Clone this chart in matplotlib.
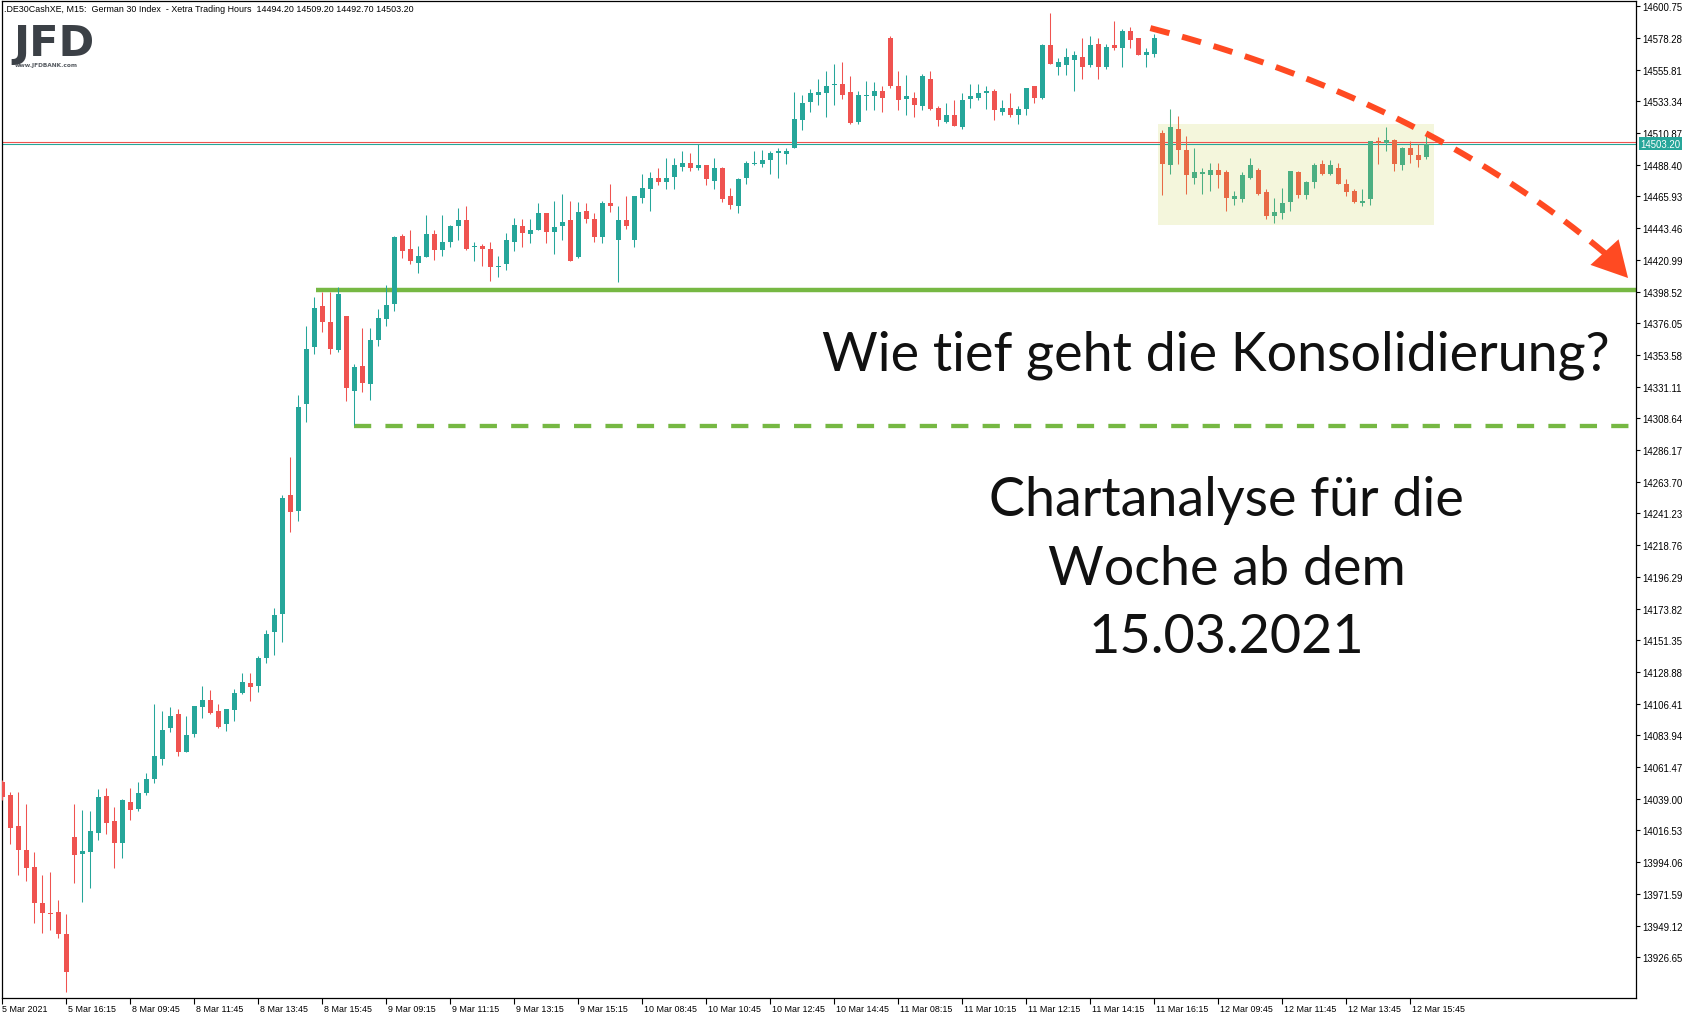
import matplotlib
matplotlib.use("Agg")
import matplotlib.pyplot as plt
from matplotlib.patches import Rectangle, Polygon
from matplotlib.transforms import IdentityTransform
import numpy as np

# ---- data (M15 candles) ----
opens = [14051, 14042, 14020, 14003, 13991, 13965, 13958, 13959, 13943, 14012,
         14000, 14001, 14015, 14041, 14023, 14008, 14037, 14032, 14043, 14053,
         14067, 14089, 14099, 14072, 14085, 14104, 14109, 14101, 14092, 14102,
         14114, 14121, 14119, 14139, 14157, 14170, 14254, 14243, 14319, 14359,
         14388, 14377, 14357, 14381, 14328, 14346, 14333, 14364, 14379, 14390,
         14438, 14429, 14419, 14423, 14439, 14428, 14434, 14445, 14449, 14430,
         14431, 14429, 14416, 14418, 14434, 14445, 14439, 14442, 14454, 14441,
         14445, 14449, 14423, 14456, 14450, 14437, 14461, 14435, 14449, 14435,
         14465, 14471, 14479, 14476, 14480, 14487, 14490, 14486, 14488, 14477,
         14486, 14466, 14459, 14479, 14489, 14489, 14492, 14497, 14496, 14500,
         14520, 14533, 14538, 14539, 14545, 14546, 14540, 14519, 14537, 14537,
         14541, 14578, 14544, 14535, 14536, 14530, 14549, 14529, 14519, 14524,
         14515, 14535, 14536, 14539, 14541, 14526, 14529, 14524, 14528, 14544,
         14536, 14573, 14558, 14559, 14563, 14565, 14559, 14574, 14558, 14573,
         14571, 14583, 14578, 14566, 14567, 14511, 14488, 14514, 14499, 14479,
         14482, 14481, 14485, 14483, 14464, 14464, 14479, 14485, 14469, 14452,
         14454, 14462, 14483, 14467, 14476, 14489, 14482, 14486, 14475, 14470,
         14461, 14464, 14505, 14504, 14506, 14488, 14500, 14495, 14494.2]
highs = [14052, 14044, 14044, 14035, 14001, 13985, 13987, 13967, 13957, 14035,
         14031, 14030, 14046, 14047, 14033, 14039, 14047, 14051, 14057, 14106,
         14101, 14104, 14103, 14098, 14105, 14119, 14116, 14106, 14103, 14117,
         14128, 14128, 14140, 14159, 14174, 14254, 14281, 14325, 14374, 14395,
         14398, 14398, 14402, 14381, 14347, 14373, 14373, 14386, 14403, 14438,
         14439, 14442, 14431, 14453, 14442, 14453, 14446, 14458, 14459, 14434,
         14432, 14434, 14424, 14440, 14451, 14450, 14450, 14461, 14454, 14463,
         14468, 14463, 14462, 14461, 14454, 14463, 14475, 14459, 14466, 14466,
         14482, 14483, 14486, 14493, 14493, 14498, 14497, 14503, 14488, 14493,
         14487, 14472, 14479, 14491, 14498, 14499, 14498, 14500, 14500, 14540,
         14538, 14542, 14549, 14555, 14560, 14561, 14551, 14541, 14548, 14547,
         14544, 14580, 14555, 14552, 14540, 14553, 14555, 14530, 14532, 14534,
         14539, 14546, 14546, 14544, 14542, 14534, 14539, 14530, 14543, 14544,
         14574, 14596, 14564, 14571, 14569, 14578, 14580, 14578, 14574, 14590,
         14585, 14586, 14578, 14571, 14581, 14513, 14528, 14523, 14509, 14500,
         14486, 14490, 14490, 14485, 14470, 14483, 14493, 14486, 14471, 14465,
         14472, 14484, 14484, 14477, 14490, 14492, 14492, 14490, 14478, 14471,
         14471, 14505, 14508, 14515, 14507, 14501, 14505, 14503, 14509.2]
lows = [14038, 14007, 13985, 13981, 13951, 13944, 13946, 13940, 13902, 13979,
        13966, 13976, 14010, 14014, 13990, 13997, 14024, 14030, 14042, 14050,
        14063, 14086, 14069, 14072, 14083, 14096, 14099, 14089, 14087, 14094,
        14113, 14108, 14115, 14135, 14141, 14150, 14228, 14236, 14306, 14354,
        14370, 14354, 14356, 14321, 14304, 14327, 14322, 14360, 14374, 14385,
        14422, 14418, 14412, 14423, 14421, 14424, 14430, 14435, 14428, 14420,
        14417, 14406, 14409, 14414, 14427, 14430, 14433, 14442, 14433, 14425,
        14435, 14420, 14422, 14447, 14434, 14433, 14455, 14405, 14443, 14430,
        14461, 14456, 14474, 14471, 14471, 14484, 14484, 14485, 14474, 14471,
        14462, 14457, 14454, 14475, 14488, 14487, 14482, 14479, 14489, 14500,
        14513, 14526, 14531, 14522, 14531, 14535, 14517, 14517, 14527, 14527,
        14526, 14543, 14527, 14524, 14522, 14527, 14527, 14516, 14518, 14516,
        14514, 14529, 14534, 14528, 14520, 14524, 14522, 14517, 14524, 14532,
        14535, 14560, 14552, 14552, 14541, 14549, 14558, 14549, 14556, 14570,
        14558, 14571, 14566, 14558, 14565, 14467, 14482, 14489, 14468, 14475,
        14468, 14470, 14472, 14456, 14460, 14462, 14478, 14467, 14450, 14447,
        14450, 14456, 14465, 14464, 14472, 14481, 14481, 14475, 14466, 14461,
        14459, 14460, 14489, 14498, 14484, 14485, 14490, 14487, 14492.7]
closes = [14040, 14018, 14003, 13990, 13965, 13958, 13957, 13943, 13916, 13999,
          14002, 14016, 14040, 14022, 14008, 14038, 14031, 14043, 14053, 14069,
          14088, 14098, 14072, 14084, 14105, 14109, 14100, 14090, 14103, 14114,
          14122, 14118, 14139, 14156, 14169, 14252, 14242, 14317, 14358, 14387,
          14377, 14358, 14397, 14330, 14345, 14334, 14364, 14380, 14389, 14437,
          14427, 14420, 14424, 14439, 14428, 14434, 14445, 14449, 14429, 14431,
          14429, 14416, 14417, 14435, 14446, 14440, 14442, 14454, 14441, 14444,
          14448, 14420, 14455, 14450, 14437, 14461, 14459, 14449, 14445, 14466,
          14472, 14479, 14476, 14479, 14488, 14490, 14486, 14488, 14478, 14486,
          14464, 14460, 14478, 14490, 14490, 14492, 14497, 14498, 14498, 14521,
          14532, 14539, 14540, 14544, 14546, 14538, 14518, 14538, 14538, 14541,
          14536, 14544, 14534, 14537, 14531, 14551, 14528, 14520, 14524, 14516,
          14534, 14537, 14539, 14541, 14527, 14529, 14524, 14528, 14543, 14536,
          14573, 14560, 14561, 14565, 14566, 14558, 14573, 14558, 14572, 14571,
          14583, 14577, 14566, 14568, 14578, 14489, 14515, 14499, 14481, 14483,
          14483, 14485, 14481, 14465, 14466, 14481, 14488, 14468, 14452, 14455,
          14461, 14484, 14467, 14476, 14488, 14482, 14488, 14475, 14469, 14462,
          14463, 14505, 14504, 14506, 14489, 14500, 14495, 14492, 14503.2]

box_start = 145          # 12 Mar candles, highlighted in the yellow box
support = 14400.0
low_level = 14303.0
bid, ask = 14503.20, 14504.6

ytick_vals = [14600.75, 14578.28, 14555.81, 14533.34, 14510.87, 14488.40, 14465.93,
              14443.46, 14420.99, 14398.52, 14376.05, 14353.58, 14331.11, 14308.64,
              14286.17, 14263.70, 14241.23, 14218.76, 14196.29, 14173.82, 14151.35,
              14128.88, 14106.41, 14083.94, 14061.47, 14039.00, 14016.53, 13994.06,
              13971.59, 13949.12, 13926.65]
xtick_labels = ["5 Mar 2021", "5 Mar 16:15", "8 Mar 09:45", "8 Mar 11:45", "8 Mar 13:45",
                "8 Mar 15:45", "9 Mar 09:15", "9 Mar 11:15", "9 Mar 13:15", "9 Mar 15:15",
                "10 Mar 08:45", "10 Mar 10:45", "10 Mar 12:45", "10 Mar 14:45",
                "11 Mar 08:15", "11 Mar 10:15", "11 Mar 12:15", "11 Mar 14:15",
                "11 Mar 16:15", "12 Mar 09:45", "12 Mar 11:45", "12 Mar 13:45",
                "12 Mar 15:45"]
header = (".DE30CashXE, M15:  German 30 Index  - Xetra Trading Hours  "
          "14494.20 14509.20 14492.70 14503.20")

BULL, BEAR = "#26a69a", "#ef5350"
BOX_BULL, BOX_BEAR = "#4caf82", "#e86a45"
GREEN = "#76b843"
ARROW = "#ff4a22"

W, H = 1693, 1020
fig = plt.figure(figsize=(W / 100, H / 100), dpi=100)
ax = fig.add_axes([2 / W, 1 - 999 / H, (1636 - 2) / W, (999 - 2) / H])
ax.set_xlim(-0.0375, 204.2)
ax.set_ylim(13897.8, 14604.5)

o = np.array(opens, float); h = np.array(highs, float)
l = np.array(lows, float); c = np.array(closes, float)
x = np.arange(len(o))
up = c >= o
box = x >= box_start
col = np.where(box, np.where(up, BOX_BULL, BOX_BEAR), np.where(up, BULL, BEAR))

# yellow consolidation box
ax.add_patch(Rectangle((144.5, 14445.9), 178.9 - 144.5, 14517.1 - 14445.9,
                       facecolor="#f4f6dc", edgecolor="none", zorder=0.5))

# bid / ask lines
ax.axhline(ask, color=BEAR, lw=0.8, zorder=1)
ax.axhline(bid, color=BULL, lw=0.8, zorder=1)

# candles
ax.vlines(x, l, h, colors=col, lw=0.75, zorder=3)
bot = np.minimum(o, c)
hgt = np.maximum(np.abs(c - o), 0.9)
ax.bar(x, hgt, bottom=bot, width=0.62, color=col, linewidth=0, zorder=3)

# support lines
ax.hlines(support, 39.2, 204.2, color=GREEN, lw=3.2, zorder=2)
ax.hlines(low_level, 44.0, 204.2, color=GREEN, lw=3.1, zorder=2,
          linestyles=(0, (4.0, 3.3)))

# red dashed curved arrow (quadratic bezier)
p0 = np.array([143.5, 14585.3]); p1 = np.array([177.5, 14535.0]); p2 = np.array([200.6, 14424.4])
tt = np.linspace(0, 1, 200)[:, None]
curve = (1 - tt) ** 2 * p0 + 2 * (1 - tt) * tt * p1 + tt ** 2 * p2
ax.plot(curve[:, 0], curve[:, 1], color=ARROW, lw=4.3, ls=(0, (3.3, 2.2)),
        solid_capstyle="butt", dash_capstyle="butt", zorder=4)
fig.canvas.draw()
base_px = ax.transData.transform(p2)
d = np.array([20.0, -22.0]); d /= np.linalg.norm(d)
tip_px = base_px + d * 31
nrm = np.array([-d[1], d[0]])
back = base_px - d * 4
head = [tip_px, back + nrm * 19, back - nrm * 19]
ax.add_patch(Polygon(head, closed=True, facecolor=ARROW, edgecolor="none",
                     transform=IdentityTransform(), zorder=4))

# axes styling
for s in ax.spines.values():
    s.set_color("black"); s.set_linewidth(0.9)
ax.yaxis.tick_right()
ax.set_yticks(ytick_vals)
ax.set_yticklabels([f"{v:.2f}" for v in ytick_vals], fontsize=6.9, family="Liberation Sans")
ax.tick_params(axis="y", length=3, width=0.8, pad=1.5, colors="black")
ax.set_xticks(np.arange(len(xtick_labels)) * 8)
ax.set_xticklabels([])
ax.tick_params(axis="x", length=4, width=0.8)
for k, lab in enumerate(xtick_labels):
    ax.text(k * 8 + 0.15 if k else -0.0, -0.0105, lab, transform=ax.get_xaxis_transform(),
            ha="left", va="center", fontsize=6.4, family="Liberation Sans", clip_on=False)

# current price tag
ax.annotate(f"{bid:.2f}", xy=(1.0, bid), xycoords=("axes fraction", "data"),
            xytext=(3, 0), textcoords="offset points", ha="left", va="center",
            fontsize=6.9, family="Liberation Sans", color="white",
            bbox=dict(boxstyle="square,pad=0.15", fc=BULL, ec="none"), annotation_clip=False)

# header and logo
fig.text(4 / W, 1 - 9 / H, header, fontsize=6.4, family="Liberation Sans", va="center", ha="left")
fig.text(13 / W, 1 - 56 / H, "JFD", fontsize=31, fontweight="bold", color="#3b4046",
         family="DejaVu Sans", va="baseline", ha="left")
fig.text(15 / W, 1 - 65 / H, "www.JFDBANK.com", fontsize=4.2, fontweight="bold",
         color="#555a60", va="center", ha="left")

# annotation texts
big = dict(fontsize=38.8, family="Lato", color="#111111", ha="center", va="baseline")
fig.text(1216 / W, 1 - 370 / H, "Wie tief geht die Konsolidierung?", **big)
fig.text(1226 / W, 1 - 516 / H, "Chartanalyse für die", **big)
fig.text(1227 / W, 1 - 585 / H, "Woche ab dem", **big)
fig.text(1226 / W, 1 - 653 / H, "15.03.2021", **big)

fig.savefig("out.png", dpi=100)
